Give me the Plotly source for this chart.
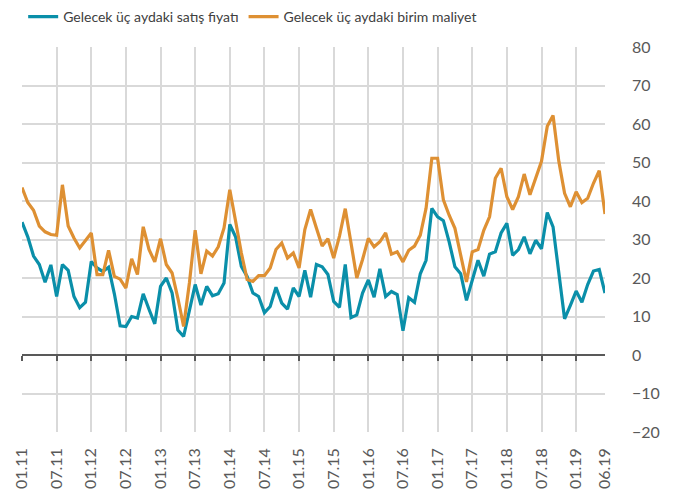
import plotly.graph_objects as go

# monthly data 01.2011 .. 06.2019
satis = [34.5, 30.7, 25.7, 23.5, 18.9, 23.4, 15.2, 23.5, 22.0, 15.2, 12.3, 13.7,
         24.3, 22.6, 21.7, 22.8, 15.9, 7.6, 7.4, 10.0, 9.6, 15.9, 11.9, 8.1,
         17.8, 20.0, 16.1, 6.5, 4.8, 11.7, 18.3, 13.0, 17.8, 15.4, 15.9, 18.7,
         33.9, 30.7, 23.0, 20.4, 16.1, 15.2, 11.0, 12.6, 17.6, 13.5, 11.9, 17.4,
         15.2, 22.0, 15.0, 23.5, 22.9, 20.9, 13.9, 12.4, 23.5, 9.7, 10.4, 16.1,
         19.5, 15.0, 22.4, 15.2, 16.5, 15.7, 6.3, 14.9, 13.7, 21.1, 24.6, 38.1,
         35.9, 34.9, 29.4, 22.9, 21.1, 14.2, 19.4, 24.6, 20.5, 26.2, 26.8, 31.7,
         34.2, 25.9, 27.4, 30.7, 26.3, 29.8, 27.6, 37.0, 33.3, 22.0, 9.4, 12.9,
         16.6, 13.7, 18.3, 21.8, 22.2, 16.1]
maliyet = [43.5, 39.6, 37.6, 33.5, 32.0, 31.3, 31.1, 44.2, 33.5, 30.4, 27.8, 29.6,
           31.7, 20.9, 20.9, 27.2, 20.4, 19.7, 17.4, 25.0, 20.9, 33.3, 27.4, 24.2,
           30.2, 23.5, 21.3, 14.8, 7.4, 18.7, 32.4, 21.1, 27.0, 25.7, 28.1, 33.0,
           42.9, 34.8, 26.5, 19.6, 19.1, 20.6, 20.6, 22.6, 27.4, 29.1, 25.2, 26.5,
           22.6, 32.6, 37.8, 33.0, 28.3, 30.2, 25.2, 30.9, 38.0, 29.1, 20.0, 24.8,
           30.3, 28.1, 29.4, 31.7, 26.2, 26.8, 24.2, 27.2, 28.3, 31.1, 38.1, 51.1,
           51.1, 40.3, 36.3, 32.9, 26.3, 19.0, 26.8, 27.4, 32.4, 35.9, 45.9, 48.5,
           41.1, 37.8, 41.1, 47.0, 41.6, 45.7, 50.3, 59.4, 62.2, 50.3, 42.0, 38.5,
           42.4, 39.6, 40.7, 44.6, 47.9, 36.6]
months = list(range(len(satis)))
grid_pos = list(range(0, 97, 6))
tick_pos = grid_pos + [101]
tick_text = ["01.11", "07.11", "01.12", "07.12", "01.13", "07.13", "01.14", "07.14",
             "01.15", "07.15", "01.16", "07.16", "01.17", "07.17", "01.18", "07.18", "01.19",
             "06.19"]

TEAL = "#0a8fa9"
ORANGE = "#de9033"
GRID = "#d9d9d9"
TXT = "#595959"
FONT = "Lato"

fig = go.Figure()
fig.add_trace(go.Scatter(x=months, y=satis, mode="lines", name="Gelecek üç aydaki satış fiyatı",
                         line=dict(color=TEAL, width=3.2)))
fig.add_trace(go.Scatter(x=months, y=maliyet, mode="lines", name="Gelecek üç aydaki birim maliyet",
                         line=dict(color=ORANGE, width=3.2)))
# dummy trace for the zero-line tick axis
fig.add_trace(go.Scatter(x=[0, 101], y=[None, None], xaxis="x2", showlegend=False, hoverinfo="skip"))

# page body has an 8px margin: figure is sized/offset to compensate
fig.update_layout(
    width=668, height=485,
    margin=dict(l=14, r=71, t=39, b=61, autoexpand=False),
    paper_bgcolor="white", plot_bgcolor="white",
    font=dict(family=FONT, color=TXT, size=16),
    showlegend=True,
    legend=dict(orientation="h", x=0.002, xanchor="left", y=1.078, yanchor="middle",
                font=dict(size=14, color="#404040", family=FONT), itemwidth=30,
                bgcolor="rgba(0,0,0,0)"),
    xaxis=dict(range=[0, 101], tickvals=tick_pos, ticktext=tick_text, tickangle=-90,
               showgrid=False, zeroline=False, showline=False, ticks="",
               ticklabelstandoff=12, tickfont=dict(size=16, color=TXT),
               minor=dict(tickvals=grid_pos, showgrid=True, gridcolor=GRID, gridwidth=1.5,
                          ticks="")),
    xaxis2=dict(range=[0, 101], overlaying="x", anchor="free", position=0.2, side="bottom",
                tickvals=grid_pos, showticklabels=False, showgrid=False, zeroline=False,
                showline=False, ticks="outside", ticklen=5, tickwidth=1.5, tickcolor="#595959"),
    yaxis=dict(range=[-20, 80], dtick=10, side="right", showgrid=True, gridcolor=GRID,
               gridwidth=1.5, zeroline=True, zerolinecolor="#595959", zerolinewidth=1.5,
               showline=False, ticks="", ticklabelstandoff=26,
               tickfont=dict(size=16, color=TXT)),
)

fig.write_html("out.html")
